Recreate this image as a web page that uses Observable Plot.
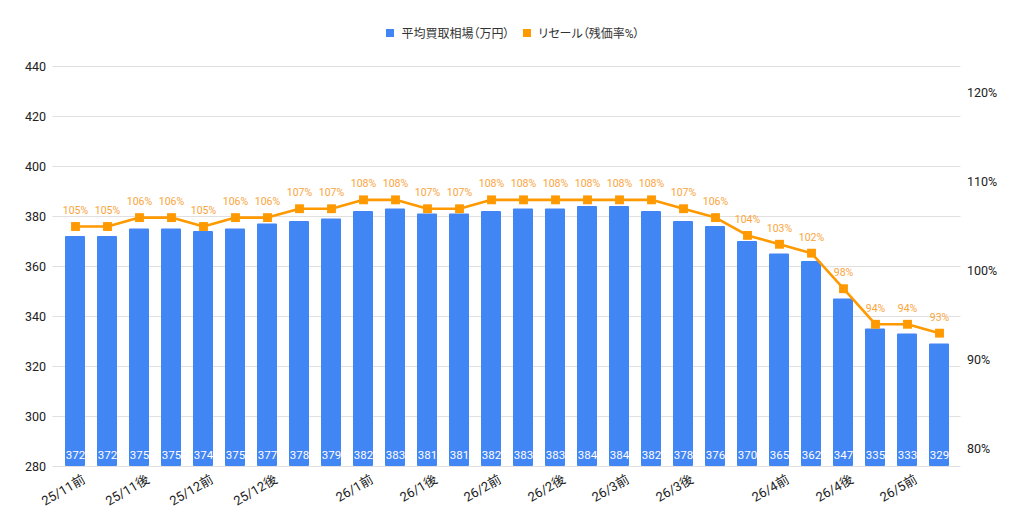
<!DOCTYPE html>
<html>
<head>
<meta charset="utf-8">
<script src="https://cdn.jsdelivr.net/npm/d3@7"></script>
<script src="https://cdn.jsdelivr.net/npm/@observablehq/plot@0.6"></script>
<style>
  html, body { margin: 0; padding: 0; background: #fff; }
  body { width: 1024px; height: 527px; overflow: hidden; font-family: Roboto, "Noto Sans CJK JP", sans-serif; }
  #legend { height: 50px; display: flex; justify-content: center; align-items: flex-end; gap: 14px; font-size: 12px; color: #333; box-sizing: border-box; padding-bottom: 9px; padding-left: 2px; font-feature-settings: "palt"; }
  #legend span.item { display: inline-flex; align-items: center; gap: 7px; }
  #legend i { display: inline-block; width: 8px; height: 8px; }
</style>
</head>
<body>
<div id="legend"></div>
<div id="chart"></div>
<script>
// Average trade-in price (10k yen) per half-month period
const buyPrice = [372, 372, 375, 375, 374, 375, 377, 378, 379, 382, 383, 381, 381, 382,
                  383, 383, 384, 384, 382, 378, 376, 370, 365, 362, 347, 335, 333, 329];
// Resale value ratio (%)
const resaleRate = [105, 105, 106, 106, 105, 106, 106, 107, 107, 108, 108, 107, 107, 108,
                    108, 108, 108, 108, 108, 107, 106, 104, 103, 102, 98, 94, 94, 93];
// Labelled positions along the period axis
const tickAt = [0, 2, 4, 6, 9, 11, 13, 15, 17, 19, 22, 24, 26];
const tickLabels = ["25/11前", "25/11後", "25/12前", "25/12後", "26/1前", "26/1後", "26/2前",
                    "26/2後", "26/3前", "26/3後", "26/4前", "26/4後", "26/5前"];
const leftTicks = [280, 300, 320, 340, 360, 380, 400, 420, 440];
const rightTicks = [80, 90, 100, 110, 120];
const seriesNames = ["平均買取相場（万円）", "リセール（残価率%）"];
const seriesColors = ["#4285f4", "#ff9900"];

// Secondary (percent) axis shares the plot's y scale: 78%..123% spans 280..440
const leftDomain = [280, 440];
const rightDomain = [78, 123];
const toLeft = p => leftDomain[0] + (p - rightDomain[0]) * (leftDomain[1] - leftDomain[0]) / (rightDomain[1] - rightDomain[0]);
const toRight = v => rightDomain[0] + (v - leftDomain[0]) * (rightDomain[1] - rightDomain[0]) / (leftDomain[1] - leftDomain[0]);

const data = buyPrice.map((v, i) => ({i, price: v, rate: resaleRate[i], rateY: toLeft(resaleRate[i])}));
const labelOf = new Map(tickAt.map((t, k) => [t, tickLabels[k]]));

const legend = document.getElementById("legend");
seriesNames.forEach((name, k) => {
  const s = document.createElement("span");
  s.className = "item";
  s.innerHTML = `<i style="background:${seriesColors[k]}"></i>${name}`;
  legend.appendChild(s);
});

const font = 'Roboto, "Noto Sans CJK JP", sans-serif';

const chart = Plot.plot({
  width: 1024,
  height: 477,
  marginTop: 16,
  marginBottom: 61,
  marginLeft: 58.5,
  marginRight: 69.5,
  style: {fontFamily: font, fontSize: "12px", color: "#222", background: "#fff"},
  x: {type: "band", domain: d3.range(buyPrice.length), padding: 0, axis: null},
  y: {domain: leftDomain, axis: null},
  marks: [
    Plot.ruleY(leftTicks, {stroke: "#e0e0e0", strokeWidth: 1, insetLeft: -6, insetRight: -6}),
    Plot.barY(data, {x: "i", y1: leftDomain[0], y2: "price", fill: seriesColors[0], insetLeft: 6, insetRight: 6, rx: 1}),
    Plot.text(data, {x: "i", y: leftDomain[0], text: d => String(d.price), fill: "#fff", dy: -11, fontSize: 11.5}),
    Plot.line(data, {x: "i", y: "rateY", stroke: seriesColors[1], strokeWidth: 2.6}),
    Plot.dot(data, {x: "i", y: "rateY", symbol: "square", r: 5, fill: seriesColors[1], stroke: null}),
    Plot.text(data, {x: "i", y: "rateY", text: d => d.rate + "%", fill: "#f9a53c", dy: -16, fontSize: 10.5}),
    Plot.axisY(leftTicks, {anchor: "left", tickSize: 0, tickPadding: 13, fontSize: 12.5, color: "#222", label: null}),
    Plot.axisY(rightTicks.map(toLeft), {anchor: "right", tickSize: 0, tickPadding: 12, fontSize: 12.5, color: "#222",
      tickFormat: v => Math.round(toRight(v)) + "%", label: null}),
    Plot.axisX(tickAt, {anchor: "bottom", tickSize: 0, tickPadding: 8, tickRotate: -30, fontSize: 13, color: "#222",
      dx: 8.6, dy: 4, tickFormat: t => labelOf.get(t), label: null})
  ]
});
document.getElementById("chart").appendChild(chart);
</script>
</body>
</html>
